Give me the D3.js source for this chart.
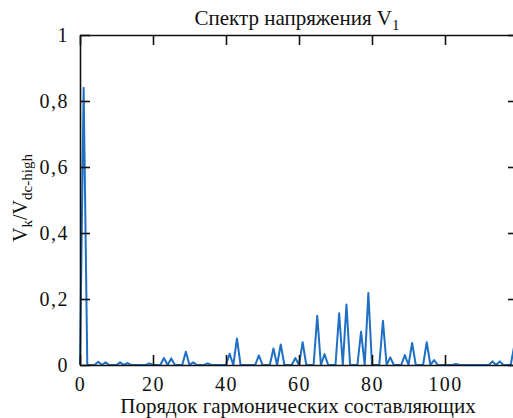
<!DOCTYPE html>
<html><head><meta charset="utf-8">
<script src="https://cdn.jsdelivr.net/npm/d3@7"></script>
<style>body{margin:0;background:#fff;overflow:hidden}svg{display:block}text{font-family:"Liberation Serif","Tinos","Times New Roman","DejaVu Serif",serif;fill:#111}</style>
</head><body>
<svg id="c" width="513" height="418"></svg>
<script>
const harmonics = d3.range(0, 121);
const values = [
0, 0.84, 0, 0, 0, 0.01, 0, 0.008, 0, 0,
0, 0.008, 0, 0.006, 0, 0, 0, 0, 0, 0.005,
0, 0, 0, 0.021, 0, 0.02, 0, 0, 0, 0.04,
0, 0.008, 0, 0, 0, 0.005, 0, 0, 0, 0,
0, 0.034, 0, 0.08, 0, 0, 0, 0, 0, 0.029,
0, 0, 0, 0.05, 0, 0.062, 0, 0, 0, 0.021,
0, 0.069, 0, 0, 0, 0.149, 0, 0.033, 0, 0,
0, 0.157, 0, 0.183, 0, 0, 0, 0.101, 0, 0.218,
0, 0, 0, 0.134, 0, 0.023, 0, 0, 0, 0.03,
0, 0.067, 0, 0, 0, 0.069, 0, 0.015, 0, 0,
0, 0, 0, 0.003, 0, 0, 0, 0, 0, 0,
0, 0, 0, 0.011, 0, 0.011, 0, 0, 0, 0.06,
0];
const xTicks = [0, 20, 40, 60, 80, 100, 120];
const xTickLabels = ["0", "20", "40", "60", "80", "100", ""];
const yTicks = [0, 0.2, 0.4, 0.6, 0.8, 1];
const yTickLabels = ["0", "0,2", "0,4", "0,6", "0,8", "1"];
const titleText = "Спектр напряжения V";
const titleSub = "1";
const xLabel = "Порядок гармонических составляющих";

const FONT = '"Liberation Serif","Tinos","Times New Roman","DejaVu Serif",serif';
const svg = d3.select("#c");
const L = 80, T = 35, W = 438, H = 330;
const x = d3.scaleLinear().domain([0, 120]).range([L, L + W]);
const y = d3.scaleLinear().domain([0, 1]).range([T + H, T]);

// line
const line = d3.line().x((d, i) => x(harmonics[i])).y(d => y(d));
svg.append("path").datum(values).attr("d", line)
  .attr("fill", "none").attr("stroke", "#1f6fc4").attr("stroke-width", 2)
  .attr("stroke-linejoin", "round");

// axes (mirrored, inward ticks)
const fs = "20px";
const gB = svg.append("g").attr("transform", `translate(0,${T + H})`)
  .call(d3.axisBottom(x).tickValues(xTicks).tickSizeInner(-10).tickSizeOuter(0).tickPadding(12)
    .tickFormat((d, i) => xTickLabels[i]));
const gT = svg.append("g").attr("transform", `translate(0,${T})`)
  .call(d3.axisTop(x).tickValues(xTicks).tickSizeInner(-10).tickSizeOuter(0).tickFormat(""));
const gL = svg.append("g").attr("transform", `translate(${L},0)`)
  .call(d3.axisLeft(y).tickValues(yTicks).tickSizeInner(-10).tickSizeOuter(0).tickPadding(11)
    .tickFormat((d, i) => yTickLabels[i]));
const gR = svg.append("g").attr("transform", `translate(${L + W},0)`)
  .call(d3.axisRight(y).tickValues(yTicks).tickSizeInner(-10).tickSizeOuter(0).tickFormat(""));
[gB, gT, gL, gR].forEach(g => {
  g.attr("font-family", FONT);
  g.select(".domain").attr("stroke", "#111").attr("stroke-width", 1.6);
  g.selectAll(".tick line").attr("stroke", "#111").attr("stroke-width", 1.6);
  g.selectAll("text").style("font-family", FONT).style("font-size", fs)
    .style("letter-spacing", "1.5px").attr("fill", "#111");
});

// title
const tt = svg.append("text").attr("x", L + W / 2 - 2).attr("y", 25).attr("text-anchor", "middle")
  .style("font-family", FONT).style("font-size", "21px");
tt.append("tspan").text(titleText);
tt.append("tspan").attr("dy", 5).style("font-size", "15px").text(titleSub);

// x label
svg.append("text").attr("x", 298).attr("y", 413).attr("text-anchor", "middle")
  .style("font-family", FONT).style("font-size", "21px").text(xLabel);

// y label
const yl = svg.append("text").attr("transform", `translate(27,${198}) rotate(-90)`)
  .attr("text-anchor", "middle").style("font-family", FONT).style("font-size", "20px");
yl.append("tspan").text("V");
yl.append("tspan").attr("dy", 5).style("font-size", "15px").text("k");
yl.append("tspan").attr("dy", -5).text("/V");
yl.append("tspan").attr("dy", 5).style("font-size", "15px").text("dc-high");
</script>
</body></html>
